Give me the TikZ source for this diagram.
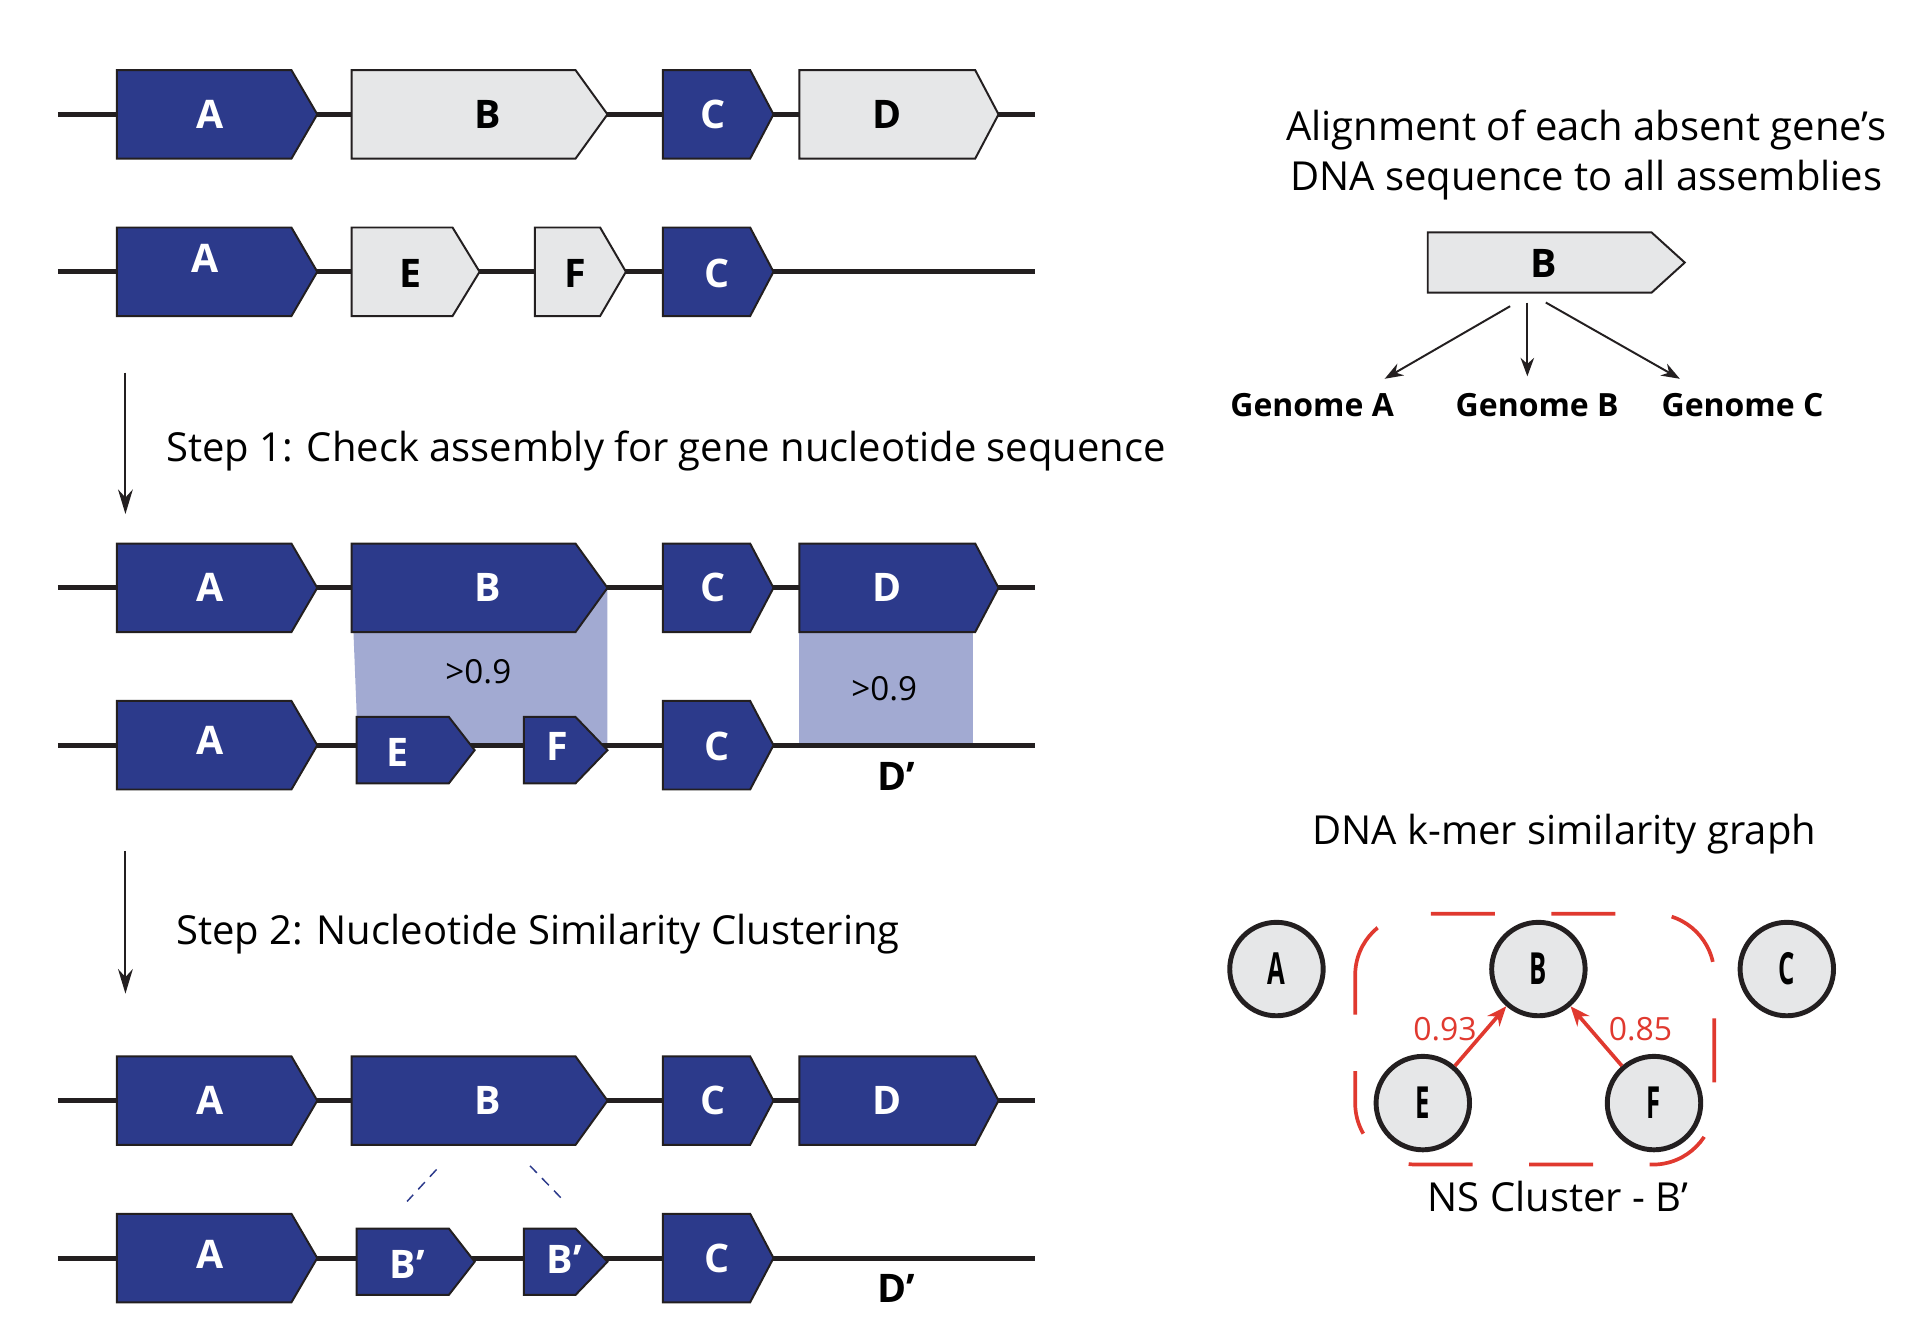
\documentclass[tikz,border=0pt]{standalone}
\usepackage{fontspec}
\setmainfont{Open Sans}
\newfontfamily\condfont[FakeStretch=0.58]{Open Sans}
\usetikzlibrary{arrows.meta}

\definecolor{geneblue}{HTML}{2C3A8B}
\definecolor{genegray}{HTML}{E6E7E8}
\definecolor{alignblue}{HTML}{A2AAD2}
\definecolor{clusterred}{HTML}{E0392F}
\definecolor{outline}{HTML}{231F20}

% gene arrow: [style] x-left, x-body-end, x-tip, y-centre, half-height
\newcommand{\gene}[6][bluegene]{%
  \filldraw[#1] (#2,#5-#6) -- (#3,#5-#6) -- (#4,#5) -- (#3,#5+#6) -- (#2,#5+#6) -- cycle;}

\tikzset{
  bluegene/.style={fill=geneblue,draw=outline,line width=1.6pt},
  graygene/.style={fill=genegray,draw=outline,line width=1.6pt},
  backbone/.style={draw=outline,line width=4pt},
  wlab/.style={text=white,inner sep=0pt,font=\fontsize{32}{32}\selectfont\bfseries},
  blab/.style={wlab,text=black},
  steptext/.style={anchor=base west,inner sep=0pt,font=\fontsize{32.5}{40}\selectfont},
  plain/.style={inner sep=0pt,align=center,font=\fontsize{32.5}{40}\selectfont},
  score/.style={inner sep=0pt,font=\fontsize{27}{27}\selectfont},
  genome/.style={inner sep=0pt,font=\fontsize{26}{26}\selectfont\bfseries},
  steparrow/.style={draw=outline,line width=1.6pt,-{Stealth[length=20pt,width=12pt]}},
  thinarrow/.style={draw=outline,line width=1.6pt,-{Stealth[length=15pt,width=11pt]}},
  linkdash/.style={draw=geneblue,line width=1.2pt,dash pattern=on 8pt off 6pt},
  kmer/.style={circle,minimum size=76pt,inner sep=0pt,fill=genegray,draw=outline,
    line width=4pt,font=\condfont\fontsize{36}{36}\selectfont\bfseries},
  simarrow/.style={draw=clusterred,line width=3pt,-{Stealth[length=16pt,width=13pt]}},
  simlab/.style={text=clusterred,inner sep=0pt,font=\fontsize{26}{26}\selectfont},
  cluster/.style={draw=clusterred,line width=3pt,rounded corners=50pt,
    dash pattern=on 52pt off 46pt,dash phase=20pt}
}

\begin{document}
\begin{tikzpicture}[x=1pt,y=-1pt]
\useasboundingbox (0,0) rectangle (1567,1080);

% alignment blocks
\fill[alignblue] (286,478) -- (494,478) -- (494,605) -- (291,605) -- cycle;
\fill[alignblue] (650,514) rectangle (791,605);

% chromosome lines
\foreach \y in {93,221,478,606,895,1023}
  \path[backbone] (47,\y) -- (842,\y);

% row 1
\gene{95}{237}{258}{93}{36}
\gene[graygene]{286}{468}{494}{93}{36}
\gene{539}{610}{629}{93}{36}
\gene[graygene]{650}{793}{812}{93}{36}
\path (171,93) node[wlab](a1){A}
      (397,93) node[blab](b1){B}
      (580,93) node[wlab](c1){C}
      (721,93) node[blab](d1){D};

% row 2
\gene{95}{237}{258}{221}{36}
\gene[graygene]{286}{368}{390}{221}{36}
\gene[graygene]{435}{488}{509}{221}{36}
\gene{539}{610}{629}{221}{36}
\path (167,210) node[wlab](a2){A}
      (334,222) node[blab](e2){E}
      (468,222) node[blab](f2){F}
      (583,222) node[wlab](c2){C};

% step 1
\coordinate (s1top) at (102,303);
\coordinate (s1bot) at (102,418);
\path[steparrow] (s1top) -- (s1bot);
\node[steptext] (step1) at (135,375) {Step 1: Check assembly for gene nucleotide sequence};

% row 3
\gene{95}{237}{258}{478}{36}
\gene{286}{468}{494}{478}{36}
\gene{539}{610}{629}{478}{36}
\gene{650}{793}{812}{478}{36}
\path (171,478) node[wlab](a3){A}
      (397,478) node[wlab](b3){B}
      (580,478) node[wlab](c3){C}
      (721,478) node[wlab](d3){D};

% row 4
\gene{95}{237}{258}{606}{36}
\gene{290}{365}{386}{610}{27}
\gene{426}{468}{494}{610}{27}
\gene{539}{610}{629}{606}{36}
\path (171,602) node[wlab](a4){A}
      (323,612) node[wlab](e4){E}
      (453,607) node[wlab](f4){F}
      (583,607) node[wlab](c4){C}
      (729,631) node[blab](d4){D’};
\node[score] (sb) at (389,546) {>0.9};
\node[score] (sd) at (719,560) {>0.9};

% step 2
\coordinate (s2top) at (102,692);
\coordinate (s2bot) at (102,808);
\path[steparrow] (s2top) -- (s2bot);
\node[steptext] (step2) at (143,768) {Step 2: Nucleotide Similarity Clustering};

% row 5
\gene{95}{237}{258}{895}{36}
\gene{286}{468}{494}{895}{36}
\gene{539}{610}{629}{895}{36}
\gene{650}{793}{812}{895}{36}
\path (171,895) node[wlab](a5){A}
      (397,895) node[wlab](b5){B}
      (580,895) node[wlab](c5){C}
      (721,895) node[wlab](d5){D};

% row 6
\gene{95}{237}{258}{1023}{36}
\gene{290}{365}{386}{1026}{27}
\gene{426}{468}{494}{1026}{27}
\gene{539}{610}{629}{1023}{36}
\path (171,1020) node[wlab](a6){A}
      (331,1028) node[wlab](bp1){B’}
      (459,1024) node[wlab](bp2){B’}
      (583,1023) node[wlab](c6){C}
      (729,1048) node[blab](d6){D’};
\coordinate (l1a) at (355,951);
\coordinate (l1b) at (331,977);
\coordinate (l2a) at (431,948);
\coordinate (l2b) at (459,977);
\path[linkdash] (l1a) -- (l1b);
\path[linkdash] (l2a) -- (l2b);

% alignment to assemblies
\node[plain] (atitle) at (1290,126) {Alignment of each absent gene’s\\DNA sequence to all assemblies};
\gene[graygene]{1161}{1343}{1370}{213.5}{24.5}
\node[blab] (bq) at (1255,214) {B};
\path (1067,329) node[genome](gA){Genome A}
      (1250,329) node[genome](gB){Genome B}
      (1417,329) node[genome](gC){Genome C};
\coordinate (qa) at (1228,249);
\coordinate (qb) at (1242,246);
\coordinate (qc) at (1257,246);
\coordinate (ta) at (1126,308);
\coordinate (tb) at (1242,306);
\coordinate (tc) at (1366,308);
\path[thinarrow] (qa) -- (ta);
\path[thinarrow] (qb) -- (tb);
\path[thinarrow] (qc) -- (tc);

% k-mer graph
\node[plain] (ktitle) at (1272,678) {DNA k-mer similarity graph};
\path (1038,788) node[kmer](kA){A}
      (1251,788) node[kmer](kB){B}
      (1453,788) node[kmer](kC){C}
      (1157,897) node[kmer](kE){E}
      (1345,897) node[kmer](kF){F};
\path[simarrow] (kE) -- node[simlab,xshift=-29pt,yshift=6pt]{0.93} (kB);
\path[simarrow] (kF) -- node[simlab,xshift=36pt,yshift=6pt]{0.85} (kB);
\path[cluster] (1102,743) rectangle (1394,947);
\node[plain] (ns) at (1267,973) {NS Cluster - B’};
\end{tikzpicture}
\end{document}
